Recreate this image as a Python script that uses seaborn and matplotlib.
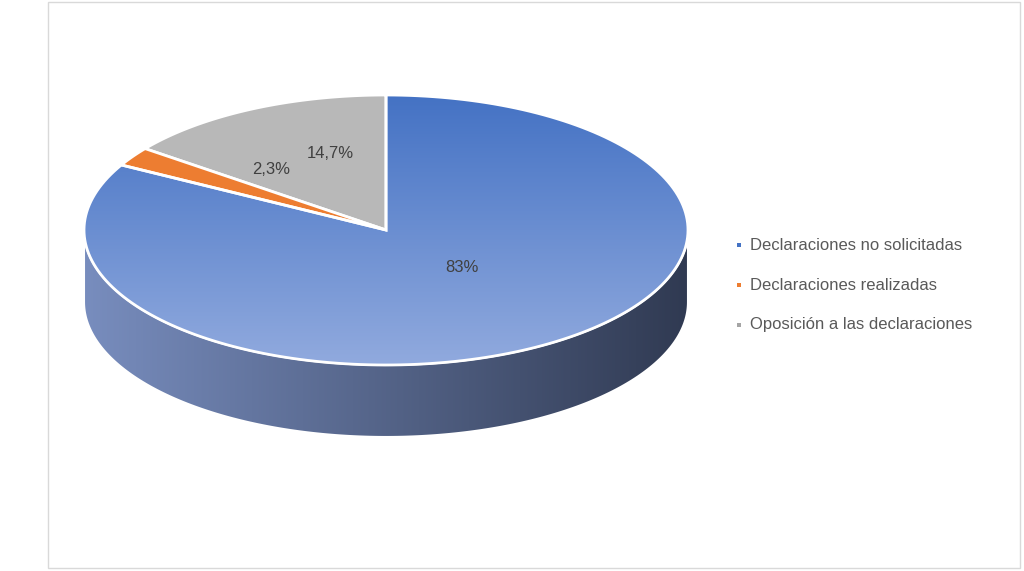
import numpy as np
import matplotlib
matplotlib.use("Agg")
import matplotlib.pyplot as plt
from matplotlib.patches import Polygon, Rectangle
import seaborn as sns

categories = ["Declaraciones no solicitadas", "Declaraciones realizadas", "Oposición a las declaraciones"]
values = [83.0, 2.3, 14.7]
labels = ["83%", "2,3%", "14,7%"]
colors = ["#4472C4", "#ED7D31", "#A5A5A5"]

sns.set_theme(style="white")
plt.rcParams['font.family'] = ['Liberation Sans', 'DejaVu Sans']

W, H = 1024, 571
fig = plt.figure(figsize=(W/100, H/100), dpi=100)
ax = fig.add_axes([0, 0, 1, 1])
ax.set_xlim(0, W); ax.set_ylim(H, 0); ax.axis("off")
ax.add_patch(Rectangle((48, 2), 972, 566, fill=False, ec="#d9d9d9", lw=1))

cx, cy, rx, ry, depth = 386, 230, 302, 135, 72

def ept(t, dy=0):
    return np.column_stack([cx + rx*np.cos(t), cy - ry*np.sin(t) + dy])

# side
t = np.linspace(np.pi, 2*np.pi, 200)
side = np.vstack([ept(t), ept(t[::-1], depth)])
sp = Polygon(side, closed=True, fc="none", ec="white", lw=1.5, zorder=2)
ax.add_patch(sp)
grad = np.linspace(0, 1, 256)[None, :]
c1 = np.array([120, 141, 190]) / 255; c2 = np.array([48, 58, 82]) / 255
img = c1[None, None, :] * (1 - grad[..., None]) + c2[None, None, :] * grad[..., None]
im = ax.imshow(img, extent=[cx-rx, cx+rx, cy+ry+depth, cy], aspect="auto", zorder=1)
im.set_clip_path(sp)

# top wedges: counterclockwise from top: gray, orange, blue
order = [2, 1, 0]
start = np.pi/2
centers = {}
for i in order:
    span = values[i] / sum(values) * 2*np.pi
    tt = np.linspace(start, start+span, 200)
    pts = np.vstack([[cx, cy], ept(tt)])
    wp = Polygon(pts, closed=True, fc=colors[i], ec="white", lw=2, zorder=3)
    ax.add_patch(wp)
    if i == 0:
        wp.set_facecolor("none")
        g = np.linspace(0, 1, 256)[:, None]
        a1 = np.array([68, 114, 196]) / 255; a2 = np.array([145, 170, 222]) / 255
        gi = a1[None, None, :]*(1-g[..., None]) + a2[None, None, :]*g[..., None]
        gi = np.repeat(gi, 2, axis=1)
        im2 = ax.imshow(gi, extent=[cx-rx, cx+rx, cy+ry, cy-ry], aspect="auto", zorder=2.5)
        im2.set_clip_path(wp)
    elif i == 2:
        wp.set_facecolor("#B8B8B8")
    start += span

label_pos = [(462, 268), (271, 170), (330, 153)]
for lab, (x, y) in zip(labels, label_pos):
    ax.text(x, y, lab, ha="center", va="center", fontsize=12, color="#404040", zorder=5)

for k, (cat, col) in enumerate(zip(categories, colors)):
    y = 245 + 40*k
    ax.add_patch(Rectangle((737, y-2), 4, 4, fc=col, ec="none"))
    ax.text(750, y, cat, ha="left", va="center", fontsize=12, color="#595959")

fig.savefig("out.png", dpi=100)
